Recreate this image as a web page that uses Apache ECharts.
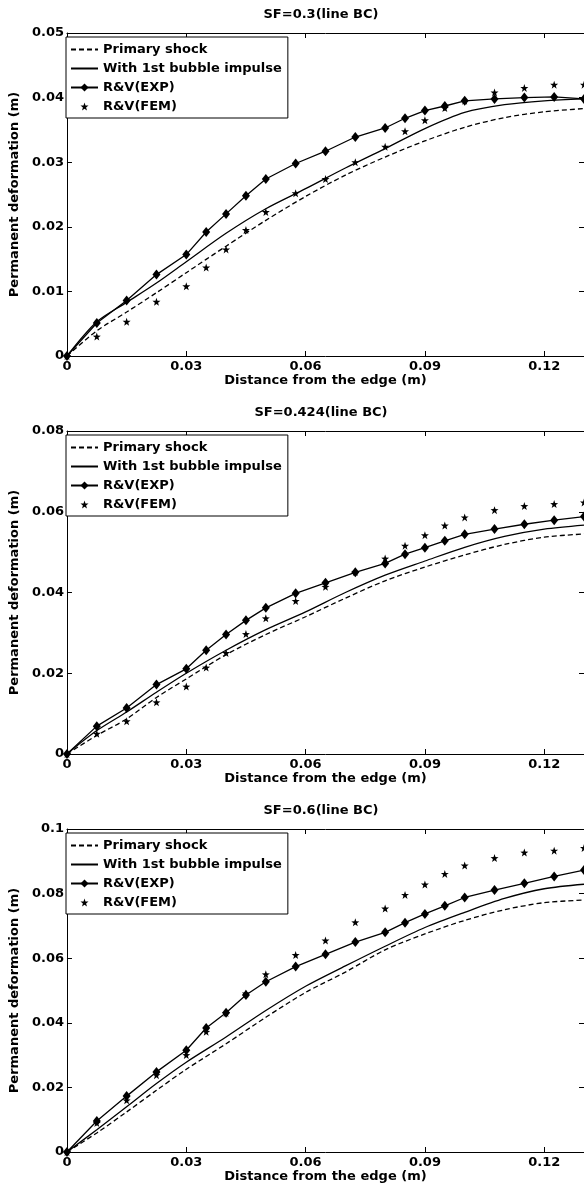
<!DOCTYPE html>
<html>
<head>
<meta charset="utf-8">
<script src="https://cdn.jsdelivr.net/npm/echarts@6.0.0/dist/echarts.min.js"></script>
<style>
html, body { margin: 0; padding: 0; background: #fff; }
#chart { width: 584px; height: 1189px; }
</style>
</head>
<body>
<div id="chart"></div>
<script>
// x positions of the R&V points and of the sampled simulation curves (m)
var xPts = [0, 0.0075, 0.015, 0.0225, 0.03, 0.035, 0.04, 0.045, 0.05, 0.0575, 0.065,
  0.0725, 0.08, 0.085, 0.09, 0.095, 0.1, 0.1075, 0.115, 0.1225, 0.13];
var xCurve = [0, 0.0075, 0.015, 0.0225, 0.03, 0.04, 0.05, 0.06, 0.07, 0.08, 0.09, 0.1, 0.11, 0.12, 0.13];

var titles = ["SF=0.3(line BC)", "SF=0.424(line BC)", "SF=0.6(line BC)"];
var yMax = [0.05, 0.08, 0.1];
var yStep = [0.01, 0.02, 0.02];

// SF = 0.3
var primary03 = [0, 0.0039, 0.0068, 0.0098, 0.0129, 0.0170, 0.0210, 0.0247, 0.0280, 0.0308, 0.0333, 0.0354, 0.0369, 0.0378, 0.0383];
var bubble03 = [0, 0.0053, 0.0083, 0.0113, 0.0146, 0.0190, 0.0228, 0.0259, 0.0291, 0.0321, 0.0352, 0.0377, 0.0389, 0.0395, 0.0398];
var exp03 = [0, 0.0051, 0.0086, 0.0126, 0.0157, 0.0192, 0.0220, 0.0248, 0.0274, 0.0298, 0.0317,
  0.0339, 0.0353, 0.0368, 0.0380, 0.0387, 0.0395, 0.0398, 0.0400, 0.0401, 0.0398];
var fem03 = [0, 0.0030, 0.0053, 0.0084, 0.0108, 0.0137, 0.0165, 0.0195, 0.0223, 0.0252, 0.0274,
  0.0300, 0.0324, 0.0348, 0.0365, 0.0384, 0.0395, 0.0408, 0.0415, 0.0420, 0.0420];

// SF = 0.424
var primary0424 = [0, 0.0046, 0.0087, 0.0140, 0.0186, 0.0246, 0.0296, 0.0340, 0.0386, 0.0429, 0.0463, 0.0493, 0.0519, 0.0537, 0.0545];
var bubble0424 = [0, 0.0058, 0.0104, 0.0153, 0.0200, 0.0257, 0.0308, 0.0352, 0.0400, 0.0443, 0.0478, 0.0512, 0.0539, 0.0557, 0.0567];
var exp0424 = [0, 0.0069, 0.0114, 0.0172, 0.0211, 0.0257, 0.0296, 0.0331, 0.0362, 0.0398, 0.0424,
  0.0450, 0.0472, 0.0495, 0.0511, 0.0528, 0.0544, 0.0557, 0.0569, 0.0579, 0.0588];
var fem0424 = [0, 0.0050, 0.0081, 0.0128, 0.0167, 0.0214, 0.0250, 0.0297, 0.0336, 0.0379, 0.0414,
  0.0451, 0.0484, 0.0516, 0.0542, 0.0566, 0.0586, 0.0604, 0.0614, 0.0619, 0.0623];

// SF = 0.6
var primary06 = [0, 0.0059, 0.0124, 0.0191, 0.0256, 0.0335, 0.0417, 0.0494, 0.0557, 0.0626, 0.0675, 0.0717, 0.0750, 0.0772, 0.0780];
var bubble06 = [0, 0.0069, 0.0140, 0.0212, 0.0278, 0.0356, 0.0438, 0.0513, 0.0576, 0.0637, 0.0695, 0.0742, 0.0785, 0.0815, 0.0829];
var exp06 = [0, 0.0096, 0.0173, 0.0248, 0.0315, 0.0384, 0.0431, 0.0486, 0.0527, 0.0574, 0.0612,
  0.0650, 0.0680, 0.0710, 0.0737, 0.0762, 0.0788, 0.0811, 0.0832, 0.0853, 0.0873];
var fem06 = [0, 0.0090, 0.0160, 0.0238, 0.0300, 0.0372, 0.0430, 0.0491, 0.0550, 0.0610, 0.0655,
  0.0711, 0.0754, 0.0796, 0.0828, 0.0861, 0.0887, 0.0910, 0.0927, 0.0933, 0.0941];

var panels = [
  [primary03, bubble03, exp03, fem03],
  [primary0424, bubble0424, exp0424, fem0424],
  [primary06, bubble06, exp06, fem06]
];

var FONT = "DejaVu Sans";
var tops = [33, 431, 829];
var STAR = "path://M0,-10L2.35,-3.24L9.51,-3.09L3.8,1.24L5.88,8.09L0,4L-5.88,8.09L-3.8,1.24L-9.51,-3.09L-2.35,-3.24Z";
var names = ["Primary shock", "With 1st bubble impulse", "R&V(EXP)", "R&V(FEM)"];

function zip(xs, ys) {
  return xs.map(function (x, i) { return [x, ys[i]]; });
}

var textBase = { color: "#000", fontFamily: FONT, fontWeight: "bold", fontSize: 13 };

var grid = [], xAxis = [], yAxis = [], series = [], legend = [], title = [];

panels.forEach(function (d, p) {
  grid.push({ left: 58, right: 0, top: tops[p], height: 323 });

  var xBase = {
    gridIndex: p, type: "value", min: 0, max: 0.13, interval: 0.03,
    axisLine: { onZero: false, lineStyle: { color: "#000", width: 1 } },
    axisTick: { inside: true, length: 5, lineStyle: { color: "#000" } },
    splitLine: { show: false }
  };
  xAxis.push(Object.assign({}, xBase, {
    position: "bottom",
    name: "Distance from the edge (m)", nameLocation: "middle", nameGap: 17,
    nameTextStyle: textBase,
    axisLabel: Object.assign({ margin: 4, showMaxLabel: false }, textBase)
  }));
  xAxis.push(Object.assign({}, xBase, { position: "top", axisLabel: { show: false } }));

  var yBase = {
    gridIndex: p, type: "value", min: 0, max: yMax[p], interval: yStep[p],
    axisLine: { onZero: false, lineStyle: { color: "#000", width: 1 } },
    axisTick: { inside: true, length: 5, lineStyle: { color: "#000" } },
    splitLine: { show: false }
  };
  yAxis.push(Object.assign({}, yBase, {
    position: "left",
    name: "Permanent deformation (m)", nameLocation: "middle", nameGap: 38,
    nameTextStyle: textBase,
    axisLabel: Object.assign({ margin: 3 }, textBase)
  }));
  yAxis.push(Object.assign({}, yBase, { position: "right", axisLabel: { show: false } }));

  var xi = 2 * p, yi = 2 * p;
  series.push({
    name: names[0], type: "line", xAxisIndex: xi, yAxisIndex: yi,
    data: zip(xCurve, d[0]), symbol: "none", smooth: 0.3,
    lineStyle: { color: "#000", width: 1.3, type: [5, 3] }, itemStyle: { color: "#000" }
  });
  series.push({
    name: names[1], type: "line", xAxisIndex: xi, yAxisIndex: yi,
    data: zip(xCurve, d[1]), symbol: "none", smooth: 0.3,
    lineStyle: { color: "#000", width: 1.3 }, itemStyle: { color: "#000" }
  });
  series.push({
    name: names[2], type: "line", xAxisIndex: xi, yAxisIndex: yi,
    data: zip(xPts, d[2]), symbol: "diamond", symbolSize: [8, 10],
    lineStyle: { color: "#000", width: 1.3 }, itemStyle: { color: "#000" }
  });
  // FEM points: markers only, drawn as a line series with an invisible line
  series.push({
    name: names[3], type: "line", xAxisIndex: xi, yAxisIndex: yi,
    data: zip(xPts, d[3]), symbol: STAR, symbolSize: 8,
    lineStyle: { width: 0, opacity: 0 }, itemStyle: { color: "#000" }
  });

  legend.push({
    data: [
      { name: names[0], itemStyle: { opacity: 0 } },
      { name: names[1], itemStyle: { opacity: 0 } },
      { name: names[2] },
      { name: names[3] }
    ],
    orient: "vertical", left: 66, top: tops[p] + 4,
    itemWidth: 27, itemHeight: 10, itemGap: 6,
    padding: [6, 6, 5, 4],
    backgroundColor: "#fff", borderColor: "#000", borderWidth: 1, borderRadius: 0,
    textStyle: textBase, selectedMode: false
  });

  title.push({
    text: titles[p], left: 316, top: tops[p] - 30, textAlign: "center",
    textStyle: textBase
  });
});

var chart = echarts.init(document.getElementById("chart"), null, { renderer: "canvas" });
chart.setOption({
  animation: false,
  backgroundColor: "#fff",
  title: title,
  legend: legend,
  grid: grid,
  xAxis: xAxis,
  yAxis: yAxis,
  series: series
});
</script>
</body>
</html>
